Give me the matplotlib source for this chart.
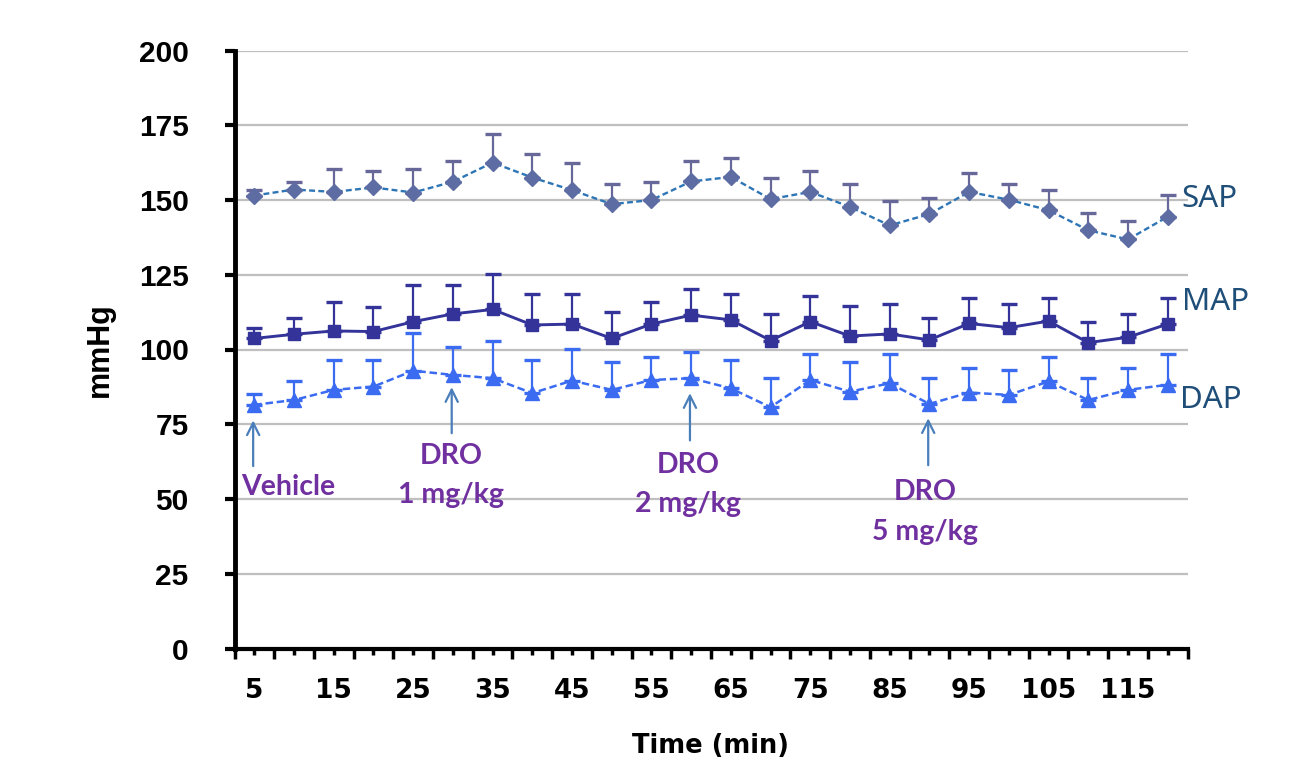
import matplotlib
matplotlib.use("Agg")
import matplotlib.pyplot as plt
import numpy as np

# ---- data ----
times = [5, 10, 15, 20, 25, 30, 35, 40, 45, 50, 55, 60,
         65, 70, 75, 80, 85, 90, 95, 100, 105, 110, 115, 120]

sap_mean = [151.5, 153.5, 152.7, 154.2, 152.5, 156.1, 162.5, 157.5, 153.3, 148.6, 150.0, 156.2,
            157.7, 150.3, 152.7, 147.7, 141.5, 145.3, 152.7, 150.1, 146.6, 139.9, 136.8, 144.4]
sap_sem = [2.0, 2.6, 7.7, 5.5, 7.9, 7.0, 9.7, 7.8, 9.1, 6.7, 6.1, 6.9,
           6.5, 6.9, 7.0, 7.5, 8.3, 5.4, 6.2, 5.1, 6.9, 5.6, 6.1, 7.4]

map_mean = [103.7, 105.1, 106.2, 106.0, 109.3, 111.9, 113.4, 108.2, 108.5, 103.7, 108.5, 111.5,
            109.9, 103.0, 109.3, 104.5, 105.2, 103.2, 108.7, 107.3, 109.5, 102.3, 104.1, 108.5]
map_sem = [3.4, 5.6, 9.8, 8.3, 12.2, 9.6, 11.7, 10.5, 10.2, 8.7, 7.5, 8.9,
           8.8, 9.0, 8.5, 10.0, 9.9, 7.5, 8.4, 7.8, 7.6, 6.8, 7.7, 8.6]

dap_mean = [81.5, 83.1, 86.5, 87.6, 92.9, 91.5, 90.4, 85.4, 89.6, 86.5, 89.8, 90.4,
            87.0, 80.7, 89.8, 85.9, 88.7, 81.8, 85.6, 84.8, 89.3, 83.1, 86.5, 88.2]
dap_sem = [3.5, 6.4, 10.0, 8.9, 12.5, 9.5, 12.4, 11.1, 10.5, 9.2, 7.6, 8.6,
           9.5, 9.7, 8.6, 9.8, 9.7, 8.6, 8.1, 8.4, 8.1, 7.3, 7.2, 10.2]

series_names = ["SAP", "MAP", "DAP"]
y_ticks = [0, 25, 50, 75, 100, 125, 150, 175, 200]

# treatment annotations: (time, line1, line2)
treatments = [(5, "Vehicle", None), (30, "DRO", "1 mg/kg"),
              (60, "DRO", "2 mg/kg"), (90, "DRO", "5 mg/kg")]

# ---- figure ----
W, H = 1306, 773
fig = plt.figure(figsize=(W / 100, H / 100), dpi=100)
ax = fig.add_axes([234.5 / W, 1 - 648.5 / H, (1187.5 - 234.5) / W, (648.5 - 50.5) / H])

x = np.arange(len(times))

# gridlines
ax.set_ylim(0, 200)
ax.set_xlim(-0.5, len(times) - 0.5)
ax.set_yticks(y_ticks)
ax.yaxis.grid(True, color="#BFBFBF", linewidth=1.6, zorder=0)
ax.set_axisbelow(True)

def draw(mean, sem, color, mcolor, ecolor, marker, ms, ls, lw, dashes=None):
    mean = np.asarray(mean)
    sem = np.asarray(sem)
    ax.errorbar(x, mean, yerr=[np.zeros_like(sem), sem], fmt="none",
                ecolor=ecolor, elinewidth=1.6, capsize=6, capthick=2.4, zorder=3)
    line, = ax.plot(x, mean, color=color, linestyle=ls, linewidth=lw, zorder=4)
    if dashes is not None:
        line.set_dashes(dashes)
    ax.plot(x, mean, linestyle="none", marker=marker, markersize=ms,
            markerfacecolor=mcolor, markeredgecolor=mcolor, zorder=5)

draw(sap_mean, sap_sem, "#2E75B6", "#5E6CA4", "#67679A", "D", 8.3, "--", 1.7, (2.5, 1.4))
draw(map_mean, map_sem, "#333399", "#333399", "#333399", "s", 9, "-", 2.1)
draw(dap_mean, dap_sem, "#3A6BF0", "#3A6BF0", "#3A6BF0", "^", 9.5, "--", 1.8, (3.0, 1.5))

# spines
for s in ["top", "right"]:
    ax.spines[s].set_visible(False)
ax.spines["left"].set_linewidth(3.5)
ax.spines["bottom"].set_linewidth(3.0)

# y ticks
ax.tick_params(axis="y", direction="out", length=7, width=3, pad=26,
               labelsize=21.5)
for lab in ax.get_yticklabels():
    lab.set_fontfamily("Liberation Sans")
    lab.set_fontweight("bold")

# x ticks: major at category boundaries, minor at centers (labels every other)
ax.set_xticks(np.arange(-0.5, len(times), 1.0))
ax.set_xticklabels([])
ax.set_xticks(x, [str(t) if i % 2 == 0 else "" for i, t in enumerate(times)], minor=True)
ax.tick_params(axis="x", which="major", direction="out", length=7, width=2.5)
ax.tick_params(axis="x", which="minor", direction="out", length=4, width=2.5,
               pad=17, labelsize=19)
for lab in ax.get_xticklabels(minor=True):
    lab.set_fontfamily("DejaVu Sans")
    lab.set_fontweight("bold")

# axis labels
fig.text(710 / W, 1 - 746 / H, "Time (min)", ha="center", va="center",
         fontsize=18.5, fontweight="bold", family="DejaVu Sans")
fig.text(100 / W, 1 - 350 / H, "mmHg", ha="center", va="center", rotation=90,
         fontsize=22, fontweight="bold", family="Liberation Sans")

# series labels
ser_pos = [(23.35, 147.6), (23.35, 113.1), (23.3, 80.3)]
for name, (sx, sy) in zip(series_names, ser_pos):
    ax.text(sx, sy, name, color="#1F4E79", fontsize=22.5, family="Noto Sans",
            ha="left", va="baseline", clip_on=False)

# treatment arrows + texts
arrow_span = {5: (61.0, 76.3), 30: (72.0, 87.4), 60: (69.6, 85.4), 90: (61.3, 77.0)}
text_base = {5: (0.85, 51.3, None), 30: (4.95, 61.6, 48.6),
             60: (10.92, 58.6, 45.6), 90: (16.9, 49.6, 36.4)}
for t, l1, l2 in treatments:
    i = times.index(t)
    y0, y1 = arrow_span[t]
    ax.annotate("", xy=(i - 0.03, y1), xytext=(i - 0.03, y0),
                arrowprops=dict(arrowstyle="->", color="#4A7EBB", lw=1.6,
                                mutation_scale=22, shrinkA=0, shrinkB=0))
    tx, b1, b2 = text_base[t]
    ax.text(tx, b1, l1, color="#7030A0", fontsize=20.5, fontweight="bold",
            family="Lato", ha="center", va="baseline")
    if l2:
        ax.text(tx, b2, l2, color="#7030A0", fontsize=20.5, fontweight="bold",
                family="Lato", ha="center", va="baseline")

fig.savefig("out.png", dpi=100)
